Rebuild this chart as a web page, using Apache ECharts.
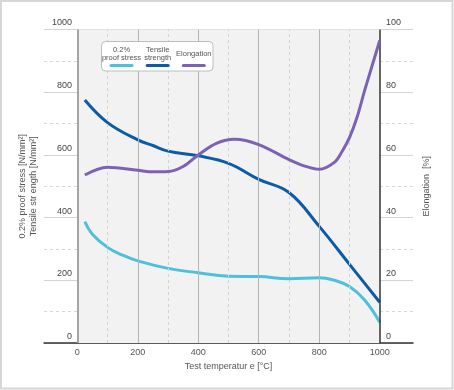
<!DOCTYPE html>
<html><head><meta charset="utf-8">
<script src="https://cdn.jsdelivr.net/npm/echarts@6/dist/echarts.min.js"></script>
<style>html,body{margin:0;padding:0;background:#fff}#c{width:454px;height:390px}</style>
</head><body><div id="c"></div>
<script>
const xTickLabels = [0, 200, 400, 600, 800, 1000];
const proofTemps = [25, 50, 100, 150, 200, 300, 400, 500, 600, 700, 800, 850, 900, 950, 1000];
const proofValues = [387, 347, 305, 280, 262, 238, 224, 213, 212, 205, 208, 200, 180, 137, 66];
const tensileTemps = [25, 100, 200, 250, 300, 400, 500, 600, 700, 800, 900, 1000];
const tensileValues = [775, 703, 648, 630, 612, 597, 573, 522, 480, 372, 251, 130];
const elongTemps = [25, 100, 200, 250, 300, 350, 400, 460, 520, 600, 700, 750, 800, 850, 875, 900, 925, 950, 975, 1000];
const elongValues = [53.6, 56.1, 55.1, 54.6, 54.7, 56.3, 60, 63.7, 65, 63.3, 58.5, 56.5, 55.4, 57.6, 61, 65.5, 72, 80.5, 88.5, 96.5];
const seriesNames = ['0.2% proof stress', 'Tensile strength', 'Elongation'];
const legendLabels = ['0.2%\nproof stress', 'Tensile\nstrength', 'Elongation'];
const colors = ['#4fc0dc', '#0b5ca8', '#7d62b4'];

const FONT = 'Liberation Sans, Arial, sans-serif';
const pair = (xs, ys) => xs.map((x, i) => [x, ys[i]]);

const vLines = [];
for (let v = 100; v <= 900; v += 100) {
  vLines.push({ xAxis: v, lineStyle: v % 200 === 0
    ? { color: '#b4b4b4', width: 1, type: 'solid' }
    : { color: '#d2d2d2', width: 1, type: [3, 3] } });
}
vLines.push({ xAxis: 0, lineStyle: { color: '#8a8a8a', width: 1.5, type: 'solid' } });
vLines.push({ xAxis: 1000, lineStyle: { color: '#333', width: 1.5, type: 'solid' } });

const chart = echarts.init(document.getElementById('c'), null, { renderer: 'canvas' });
const legendItems = [];
const lx = [121.5, 157.7, 193.8];
legendItems.push({ type: 'rect', shape: { x: 101.5, y: 41.5, width: 111.5, height: 29.5, r: 4 },
  style: { fill: '#fff', stroke: '#bdbdbd', lineWidth: 1 }, z: 50 });
legendLabels.forEach((t, i) => {
  legendItems.push({ type: 'text', x: lx[i], y: i === 2 ? 53.5 : 54, z: 51,
    style: { text: t, fill: '#555', font: '7.5px ' + FONT, align: 'center', verticalAlign: 'middle', lineHeight: 8.5 } });
  legendItems.push({ type: 'line', z: 51, shape: { x1: lx[i] - 10.5, y1: 65.5, x2: lx[i] + 10.5, y2: 65.5 },
    style: { stroke: colors[i], lineWidth: 3, lineCap: 'round' } });
});

chart.setOption({
  animation: false,
  textStyle: { fontFamily: FONT },
  graphic: [{ type: 'rect', shape: { x: 1, y: 1, width: 451.5, height: 387.5 },
    style: { fill: 'none', stroke: '#d6d6d6', lineWidth: 2 }, z: 100 }].concat(legendItems),
  grid: { left: 44, right: 41, top: 29.5, bottom: 47 },
  xAxis: {
    type: 'value', min: -110, max: 1110,
    name: 'Test temperatur e [°C]', nameLocation: 'middle', nameGap: 19,
    nameTextStyle: { color: '#555', fontSize: 9, fontFamily: FONT },
    axisLine: { show: true, lineStyle: { color: '#333', width: 1.5 } },
    axisTick: { show: false },
    splitLine: { show: false },
    axisLabel: { customValues: xTickLabels, formatter: v => String(v), color: '#555', fontSize: 9, margin: 5, fontFamily: FONT }
  },
  yAxis: [{
    type: 'value', min: 0, max: 1000, interval: 200,
    name: '0.2% proof stress [N/mm²]\nTensile str ength [N/mm²]', nameLocation: 'middle', nameGap: 5,
    nameRotate: 90,
    nameTextStyle: { color: '#555', fontSize: 9, lineHeight: 11, fontFamily: FONT },
    axisLine: { show: false }, axisTick: { show: false },
    axisLabel: { formatter: v => String(v), color: '#444', fontSize: 9, margin: -28, align: 'right', verticalAlign: 'bottom', padding: [0, 0, 2, 0], fontFamily: FONT },
    splitLine: { show: true, lineStyle: { color: '#d4d4d4', width: 1 } },
    minorTick: { show: false, splitNumber: 2 },
    minorSplitLine: { show: true, lineStyle: { color: '#d8d8d8', type: [3, 3] } }
  }, {
    type: 'value', min: 0, max: 100, interval: 20, position: 'right',
    name: 'Elongation  [%]', nameLocation: 'middle', nameGap: 9, nameRotate: 90,
    nameTextStyle: { color: '#555', fontSize: 9, fontFamily: FONT, verticalAlign: 'top' },
    axisLine: { show: false }, axisTick: { show: false },
    axisLabel: { color: '#444', fontSize: 9, margin: -27, align: 'left', verticalAlign: 'bottom', padding: [0, 0, 2, 0], fontFamily: FONT },
    splitLine: { show: false }
  }],
  series: [
    { type: 'line', z: -1, data: [], silent: true,
      markArea: { silent: true, itemStyle: { color: '#f2f2f2' }, data: [[{ xAxis: 0, yAxis: 0 }, { xAxis: 1000, yAxis: 1000 }]] } },
    { type: 'line', z: 1, data: [], silent: true,
      markLine: { silent: true, symbol: 'none', label: { show: false }, data: vLines } },
    { name: seriesNames[0], type: 'line', data: pair(proofTemps, proofValues), smooth: 0.45, showSymbol: false,
      lineStyle: { color: colors[0], width: 3 }, z: 3 },
    { name: seriesNames[1], type: 'line', data: pair(tensileTemps, tensileValues), smooth: 0.4, showSymbol: false,
      lineStyle: { color: colors[1], width: 3 }, z: 4 },
    { name: seriesNames[2], type: 'line', yAxisIndex: 1, data: pair(elongTemps, elongValues), smooth: 0.35, showSymbol: false,
      lineStyle: { color: colors[2], width: 3 }, z: 5 }
  ]
});
</script></body></html>
